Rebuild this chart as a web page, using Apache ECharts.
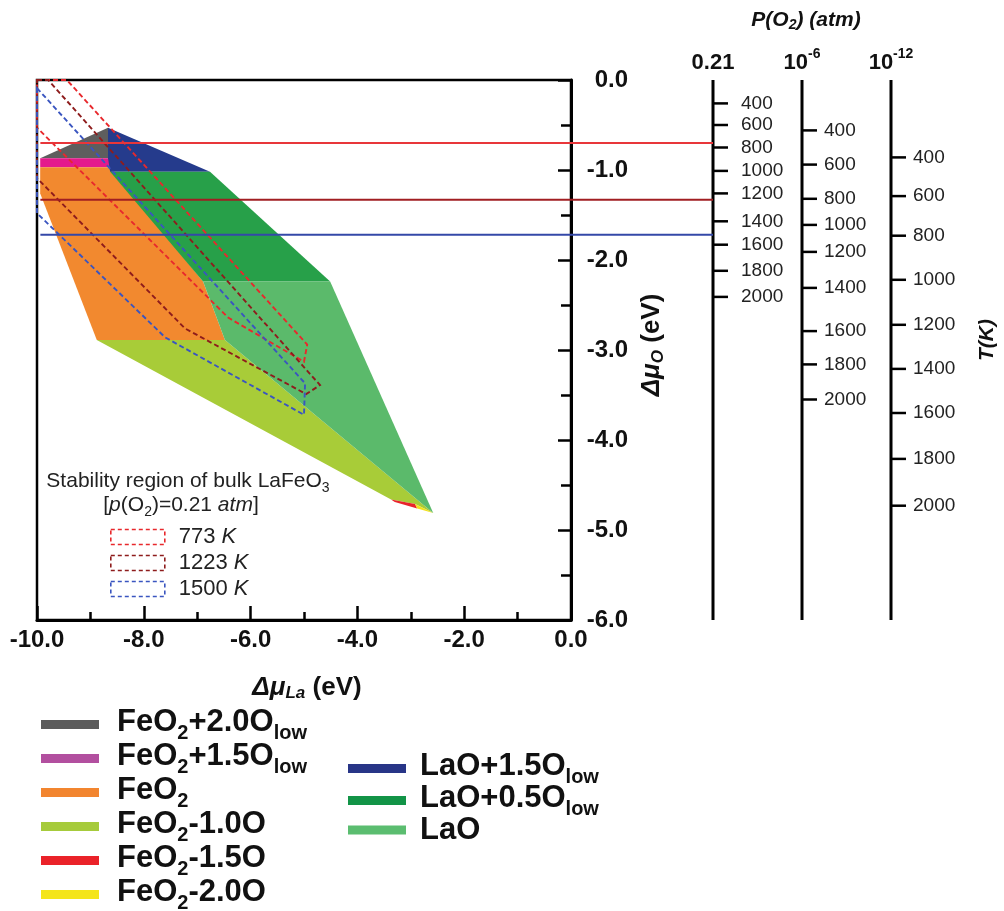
<!DOCTYPE html>
<html><head><meta charset="utf-8">
<script src="https://cdn.jsdelivr.net/npm/echarts@6/dist/echarts.min.js"></script>
<style>html,body{margin:0;padding:0;background:#fff}#c{width:1004px;height:911px}</style>
</head><body><div id="c"></div>
<script>
// ---------------- data ----------------
const FONT = "'Liberation Sans', Arial, sans-serif";
const phaseNames = ['FeO2+2.0Olow','FeO2+1.5Olow','FeO2','FeO2-1.0O','FeO2-1.5O','FeO2-2.0O','LaO+1.5Olow','LaO+0.5Olow','LaO'];
const phaseLabelParts = [['FeO','2','+2.0O','low'],['FeO','2','+1.5O','low'],['FeO','2'],['FeO','2','-1.0O'],['FeO','2','-1.5O'],['FeO','2','-2.0O'],['LaO+1.5O','low'],['LaO+0.5O','low'],['LaO']];
const phaseFill = ['#5e5e5e','#e4198c','#f2892f','#a8cc38','#e8232b','#f3e11d','#253b8c','#27a049','#5bba6b'];
const phaseLegendColor = ['#5b5b5b','#b24f9f','#f2852f','#a6cb3b','#ea2229','#f4e51a','#283587','#129447','#5bbd70'];

// stability polygons [Δμ_La, Δμ_O]
const polyFeO2p20 = [[-9.94,-0.87],[-8.67,-0.53],[-8.67,-0.87]];
const polyFeO2p15 = [[-9.94,-0.87],[-8.63,-0.87],[-8.63,-0.97],[-9.94,-0.97]];
const polyFeO2 = [[-9.94,-0.97],[-8.63,-0.97],[-6.89,-2.24],[-6.48,-2.89],[-8.88,-2.89],[-9.94,-1.26]];
const polyFeO2m10 = [[-8.88,-2.89],[-6.48,-2.89],[-2.58,-4.81],[-2.92,-4.71],[-3.37,-4.66]];
const polyFeO2m15 = [[-3.37,-4.66],[-2.92,-4.71],[-2.88,-4.76],[-3.30,-4.69]];
const polyFeO2m20 = [[-2.92,-4.71],[-2.58,-4.81],[-2.88,-4.76]];
const polyLaOp15 = [[-8.67,-0.53],[-6.76,-1.02],[-8.63,-1.02],[-8.67,-0.87]];
const polyLaOp05 = [[-8.63,-1.02],[-6.76,-1.02],[-4.51,-2.24],[-6.89,-2.24]];
const polyLaO = [[-6.89,-2.24],[-4.51,-2.24],[-2.58,-4.81],[-6.48,-2.89]];
const phasePolys = [polyFeO2p20,polyFeO2p15,polyFeO2,polyFeO2m10,polyFeO2m15,polyFeO2m20,polyLaOp15,polyLaOp05,polyLaO];

// LaFeO3 stability regions (dashed)
const stabNames = ['773 K','1223 K','1500 K'];
const stabTemps = ['773','1223','1500'];
const stabColors = ['#e8282c','#8e1c1c','#3a55c0'];
const stab773 = [[-10,0],[-9.44,0],[-4.94,-2.94],[-5.0,-3.13],[-6.42,-2.64],[-10,-0.53]];
const stab1223 = [[-10,0],[-9.79,0],[-4.70,-3.39],[-4.96,-3.49],[-7.23,-2.76],[-10,-1.09]];
const stab1500 = [[-10,-0.09],[-4.98,-3.37],[-5.0,-3.72],[-7.60,-2.86],[-10,-1.48]];
const stabPolys = [stab773,stab1223,stab1500];

// horizontal Δμ_O lines for the three temperatures at p(O2)=0.21 atm
const tempLineMuO = [-0.70,-1.33,-1.72];
const tempLineColors = ['#e8363a','#a11e22','#3448a8'];

// temperature scales for three oxygen pressures
const pressureBase = ['0.21','10','10'];
const pressureExp = ['','-6','-12'];
const tempTicks = [400,600,800,1000,1200,1400,1600,1800,2000];
const muO_p021 = [-0.26,-0.50,-0.75,-1.01,-1.26,-1.57,-1.83,-2.12,-2.41];
const muO_p1e6 = [-0.56,-0.94,-1.32,-1.61,-1.91,-2.31,-2.79,-3.16,-3.55];
const muO_p1e12 = [-0.86,-1.29,-1.73,-2.22,-2.72,-3.21,-3.70,-4.21,-4.73];
const muOScales = [muO_p021,muO_p1e6,muO_p1e12];
const labelOffsets = [28,22,22];

// ---------------- chart ----------------
const chart = echarts.init(document.getElementById('c'));

function polyRender(poly, fill, stroke){
  return function(params, api){
    if (params.dataIndex !== 0) return null;
    const pts = poly.map(p => api.coord(p));
    return {type:'polygon', shape:{points:pts}, style: stroke ? {fill:'none', stroke:stroke, lineWidth:1.9, lineDash:[5,3]} : {fill:fill}};
  };
}
function tickRender(off){
  return function(params, api){
    const p = api.coord([api.value(0), api.value(1)]);
    return {type:'group', children:[
      {type:'line', shape:{x1:p[0], y1:p[1], x2:p[0]+15, y2:p[1]}, style:{stroke:'#000', lineWidth:2.5}},
      {type:'text', x:p[0]+off, y:p[1], style:{text:String(api.value(2)), fill:'#222', font:'19px ' + FONT, align:'left', verticalAlign:'middle'}}
    ]};
  };
}

const series = [];
phaseNames.forEach((n,i)=>{
  series.push({name:n, type:'custom', xAxisIndex:0, yAxisIndex:0, z:1, clip:false,
    itemStyle:{color:phaseFill[i]}, renderItem:polyRender(phasePolys[i], phaseFill[i]), data:phasePolys[i]});
});
stabNames.forEach((n,i)=>{
  series.push({name:n, type:'custom', xAxisIndex:0, yAxisIndex:0, z:3, clip:false,
    itemStyle:{color:stabColors[i]}, renderItem:polyRender(stabPolys[i], null, stabColors[i]), data:stabPolys[i]});
});
tempLineMuO.forEach((v,i)=>{
  series.push({name:'line'+i, type:'line', xAxisIndex:1, yAxisIndex:1, z:4, symbol:'none', silent:true,
    lineStyle:{color:tempLineColors[i], width:2}, data:[[0.005,v],[1,v]]});
});
muOScales.forEach((arr,k)=>{
  series.push({name:'axis'+k, type:'line', xAxisIndex:2, yAxisIndex:2, symbol:'none', silent:true,
    lineStyle:{color:'#000', width:3}, data:[[k,0],[k,-6]]});
  series.push({name:'ticks'+k, type:'custom', xAxisIndex:2, yAxisIndex:2, clip:false, silent:true,
    renderItem:tickRender(labelOffsets[k]), data:tempTicks.map((t,j)=>[k, arr[j], t])});
});

const legRich = {
  n:{fontSize:31, fontWeight:'bold', fontFamily:FONT, color:'#111', verticalAlign:'top', padding:[1,0,0,0]},
  s:{fontSize:20, fontWeight:'bold', fontFamily:FONT, color:'#111', verticalAlign:'top', padding:[17,0,0,0]}
};
function legFmt(name){
  const parts = phaseLabelParts[phaseNames.indexOf(name)];
  return parts.map((p,i)=> (i%2 ? '{s|' : '{n|') + p + '}').join('');
}
const axisNameRich = {
  a:{fontSize:26, fontWeight:'bold', fontStyle:'italic', fontFamily:FONT, color:'#111'},
  s:{fontSize:17, fontWeight:'bold', fontStyle:'italic', fontFamily:FONT, color:'#111', verticalAlign:'bottom', padding:[12,0,0,0]},
  b:{fontSize:26, fontWeight:'bold', fontFamily:FONT, color:'#111'}
};

const option = {
  animation:false,
  backgroundColor:'#fff',
  grid:[
    {left:37, top:80, width:534, height:540, show:true, borderColor:'#000', borderWidth:2.5, backgroundColor:'transparent', outerBoundsMode:'none', containLabel:false},
    {left:37, top:80, width:676, height:540, outerBoundsMode:'none', containLabel:false},
    {left:713, top:80, width:178, height:540, outerBoundsMode:'none', containLabel:false}
  ],
  xAxis:[
    {gridIndex:0, type:'value', min:-10, max:0, interval:2,
     axisLine:{show:true, onZero:false, lineStyle:{color:'#000', width:3}},
     axisTick:{show:true, inside:true, length:14, lineStyle:{color:'#000', width:2.5}},
     minorTick:{show:true, splitNumber:2, length:8, lineStyle:{color:'#000', width:2.5}},
     splitLine:{show:false},
     axisLabel:{margin:8, formatter:v=>v.toFixed(1), color:'#111', fontSize:24, fontWeight:'bold', fontFamily:FONT},
     name:'{a|Δμ}{s|La}{b| (eV)}', nameLocation:'middle', nameGap:53, nameTextStyle:{rich:axisNameRich, padding:[0,0,0,6]}},
    {gridIndex:1, type:'value', min:0, max:1, show:false},
    {gridIndex:2, type:'value', min:0, max:2, interval:1, position:'top',
     axisLine:{show:false}, axisTick:{show:false}, splitLine:{show:false},
     axisLabel:{margin:6, formatter:v=>{const i=Math.round(v); return '{b|'+pressureBase[i]+'}'+(pressureExp[i]?'{p|'+pressureExp[i]+'}':'');},
       rich:{b:{fontSize:22, fontWeight:'bold', fontFamily:FONT, color:'#111', verticalAlign:'bottom', padding:[5,0,0,0]},
             p:{fontSize:14, fontWeight:'bold', fontFamily:FONT, color:'#111', verticalAlign:'top'}}},
     name:'{i|P(O}{s|2}{i|) (atm)}', nameLocation:'middle', nameGap:48,
     nameTextStyle:{padding:[0,0,0,8], rich:{i:{fontSize:21, fontWeight:'bold', fontStyle:'italic', fontFamily:FONT, color:'#111'},
       s:{fontSize:14, fontWeight:'bold', fontStyle:'italic', fontFamily:FONT, color:'#111', verticalAlign:'bottom', padding:[9,0,0,0]}}}}
  ],
  yAxis:[
    {gridIndex:0, type:'value', min:-6, max:0, interval:1, position:'right',
     axisLine:{show:true, onZero:false, lineStyle:{color:'#000', width:3}},
     axisTick:{show:true, inside:true, length:13, lineStyle:{color:'#000', width:2.5}},
     minorTick:{show:true, splitNumber:2, length:10, lineStyle:{color:'#000', width:2.5}},
     splitLine:{show:false},
     axisLabel:{align:'right', margin:57, formatter:v=>v.toFixed(1), color:'#111', fontSize:24, fontWeight:'bold', fontFamily:FONT},
     name:'{a|Δμ}{s|O}{b| (eV)}', nameLocation:'middle', nameGap:63, nameRotate:90, nameTextStyle:{rich:axisNameRich, padding:[0,0,0,10]}},
    {gridIndex:1, type:'value', min:-6, max:0, show:false},
    {gridIndex:2, type:'value', min:-6, max:0, position:'right',
     axisLine:{show:false}, axisTick:{show:false}, axisLabel:{show:false}, splitLine:{show:false},
     name:'T(K)', nameLocation:'middle', nameGap:86, nameRotate:90,
     nameTextStyle:{fontSize:21, fontWeight:'bold', fontStyle:'italic', fontFamily:FONT, color:'#111', padding:[0,0,0,20]}}
  ],
  legend:[
    {data:phaseNames.slice(0,6).map((n,i)=>({name:n, icon:'rect', itemStyle:{color:phaseLegendColor[i]}})),
     left:41, top:707, height:240, orient:'vertical', itemWidth:58, itemHeight:9, itemGap:-2, padding:0, selectedMode:false,
     formatter:legFmt, textStyle:{padding:[0,0,0,13], rich:legRich}},
    {data:phaseNames.slice(6).map((n,i)=>({name:n, icon:'rect', itemStyle:{color:phaseLegendColor[i+6]}})),
     left:348, top:751, height:160, orient:'vertical', itemWidth:58, itemHeight:9, itemGap:-4, padding:0, selectedMode:false,
     formatter:legFmt, textStyle:{padding:[0,0,0,9], rich:legRich}},
    {data:stabNames.map((n,i)=>({name:n, icon:'rect', itemStyle:{color:'rgba(0,0,0,0)', borderColor:stabColors[i], borderWidth:1.6, borderType:[4,3]}})),
     left:110, top:526, orient:'vertical', itemWidth:54, itemHeight:15, itemGap:4, padding:0, selectedMode:false,
     formatter:name=>{const t=stabTemps[stabNames.indexOf(name)]; return '{n|'+t+' }{i|K}';},
     textStyle:{padding:[0,0,0,9], rich:{
       n:{fontSize:22, fontFamily:FONT, color:'#222'}, i:{fontSize:22, fontStyle:'italic', fontFamily:FONT, color:'#222'}}}}
  ],
  graphic:[
    {type:'text', x:188, y:483, style:{text:'{n|Stability region of bulk LaFeO}{s|3}', align:'center', verticalAlign:'middle',
      rich:{n:{fontSize:21, fontFamily:FONT, fill:'#222', verticalAlign:'top'}, s:{fontSize:14, fontFamily:FONT, fill:'#222', verticalAlign:'top', padding:[10,0,0,0]}}}},
    {type:'text', x:181, y:507, style:{text:'{n|[}{i|p}{n|(O}{s|2}{n|)=0.21 }{i|atm}{n|]}', align:'center', verticalAlign:'middle',
      rich:{n:{fontSize:21, fontFamily:FONT, fill:'#222', verticalAlign:'top'}, i:{fontSize:21, fontStyle:'italic', fontFamily:FONT, fill:'#222', verticalAlign:'top'},
            s:{fontSize:14, fontFamily:FONT, fill:'#222', verticalAlign:'top', padding:[10,0,0,0]}}}}
  ],
  series:series
};
chart.setOption(option);
</script>
</body></html>
